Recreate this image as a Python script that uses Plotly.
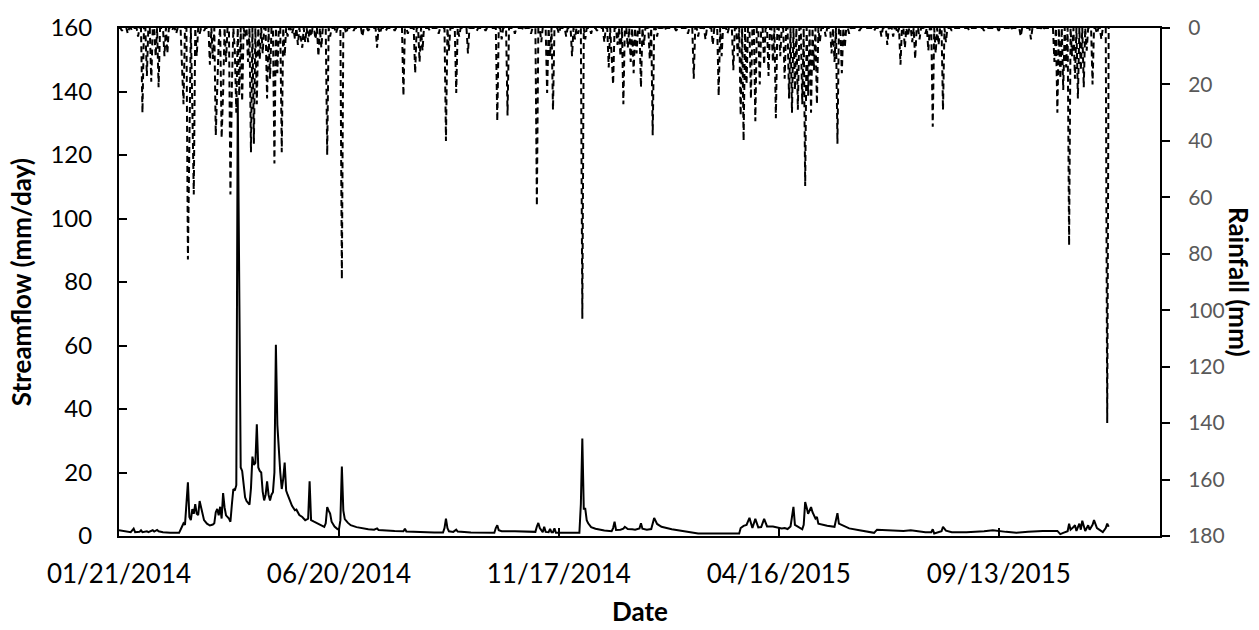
import pandas as pd
import numpy as np
import plotly.graph_objects as go

START = "2014-01-21"
N_DAYS = 676

# Streamflow (mm/day): key days (offset from 01/21/2014) and values
flow_day = [0, 3, 8, 10, 11, 14, 15, 16, 19, 20, 23, 24, 26, 27, 30, 35, 41, 43, 44, 45, 46, 47, 48, 49, 50, 51, 52, 53, 54, 55, 56, 57, 58, 60, 62, 64, 65, 66, 67, 68, 69, 70, 71, 72, 73, 75, 76, 77, 78, 79, 80, 81, 82, 83, 84, 85, 86, 87, 89, 90, 91, 92, 93, 94, 95, 96, 97, 98, 99, 100, 101, 102, 103, 104, 105, 106, 107, 108, 109, 110, 111, 112, 113, 114, 115, 117, 118, 120, 121, 123, 125, 127, 129, 130, 131, 133, 135, 138, 140, 141, 142, 143, 144, 145, 147, 149, 150, 151, 152, 153, 154, 156, 158, 162, 166, 170, 174, 176, 177, 182, 188, 194, 195, 196, 205, 215, 221, 222, 223, 224, 225, 228, 230, 231, 240, 250, 256, 257, 258, 259, 261, 270, 284, 285, 286, 287, 289, 290, 291, 293, 294, 295, 296, 297, 298, 314, 315, 316, 317, 318, 319, 320, 322, 325, 331, 336, 337, 338, 339, 342, 344, 345, 347, 350, 352, 355, 356, 357, 360, 363, 364, 365, 367, 370, 377, 386, 395, 423, 424, 426, 428, 430, 432, 434, 436, 438, 440, 442, 446, 452, 454, 456, 458, 459, 460, 461, 463, 466, 467, 468, 469, 470, 472, 473, 475, 476, 477, 483, 488, 489, 490, 491, 498, 505, 510, 515, 517, 525, 530, 535, 540, 545, 550, 554, 555, 556, 561, 562, 564, 568, 578, 590, 596, 605, 612, 620, 630, 640, 642, 644, 647, 648, 649, 651, 652, 653, 655, 656, 657, 659, 661, 662, 664, 665, 667, 671, 673, 674, 675]
flow_val = [1.8, 1.5, 1.2, 2.3, 1.2, 1.3, 1.8, 1.2, 1.5, 1.2, 1.8, 1.4, 1.9, 1.5, 1.2, 1.0, 1.0, 3.0, 4.0, 3.5, 10, 16.9, 6, 5.0, 8.5, 7, 10, 7, 6.6, 11, 9, 6.6, 5, 3.9, 3.3, 3.6, 4.0, 7.5, 8.5, 6.5, 9.2, 5.5, 13.5, 9, 6.5, 5.5, 4.5, 10, 14.8, 14.3, 16, 138, 60, 21.6, 20.5, 16, 12.2, 11, 9.9, 15, 25, 22.4, 23, 35.2, 21.6, 20.5, 20, 14, 11.2, 13, 17.2, 13, 11.2, 13, 13.8, 20, 60.2, 35, 26.8, 20, 14.8, 18, 23.1, 14.3, 13, 10.7, 9.5, 8.1, 8.3, 6.6, 6, 5.0, 5.5, 17.2, 5, 4.5, 4.0, 3.4, 2.9, 4, 9.1, 8, 7.1, 4.5, 3, 2.2, 2.0, 5, 21.9, 8, 5.3, 4.2, 3.4, 2.8, 2.4, 2.1, 2.0, 2.4, 1.9, 1.7, 1.6, 1.5, 2.3, 1.4, 1.2, 1.1, 1.1, 2.5, 5.5, 2.5, 1.5, 1.3, 2.0, 1.4, 1.1, 1.0, 1.0, 2.5, 3.4, 1.8, 1.5, 1.5, 1.3, 3.0, 4.1, 2.5, 1.2, 2.9, 1.3, 1.2, 2.2, 1.2, 1.2, 2.4, 1.0, 1.0, 10, 30.7, 8.6, 8.6, 5, 4.0, 2.8, 2.3, 1.7, 1.5, 2.5, 4.5, 1.9, 2.0, 2.3, 2.9, 2.2, 2.1, 2.0, 2.4, 4.0, 2.3, 2.0, 2.2, 4.5, 5.7, 3.8, 2.9, 2.1, 1.4, 0.8, 0.8, 2.5, 3.2, 3.5, 5.7, 2.5, 5.4, 2.7, 2.8, 5.4, 3.0, 3.0, 2.4, 2.5, 2.2, 3.0, 6, 9.2, 3.5, 2.9, 2.1, 3.5, 10.7, 9, 7.0, 9.1, 7.5, 5.5, 6.0, 3.9, 3.2, 2.9, 5, 7.2, 3.9, 2.4, 1.8, 1.5, 1.0, 2.0, 1.8, 1.8, 1.6, 1.8, 1.4, 1.2, 1.2, 2.1, 0.8, 1.5, 2.9, 1.7, 1.2, 1.2, 1.5, 1.8, 1.3, 1.0, 1.3, 1.6, 1.6, 0.6, 1.0, 1.5, 3.9, 2.0, 2.8, 3.4, 1.6, 3.9, 2.0, 4.8, 1.6, 3.4, 2.0, 3.5, 5.0, 2.5, 1.2, 2.5, 3.9, 2.9]

# Rainfall (mm): rainy days (offset from 01/21/2014) and amounts; all other days are 0
rain_day = [2, 6, 9, 13, 16, 19, 22, 25, 27, 31, 33, 36, 39, 43, 44, 47, 48, 50, 51, 53, 55, 58, 62, 64, 66, 67, 68, 70, 71, 73, 76, 77, 79, 80, 82, 84, 86, 88, 90, 92, 94, 96, 98, 101, 103, 106, 108, 111, 113, 115, 118, 120, 122, 124, 125, 127, 129, 131, 134, 136, 138, 142, 144, 148, 152, 155, 160, 166, 170, 176, 178, 182, 188, 194, 197, 202, 205, 207, 212, 218, 223, 225, 230, 232, 238, 244, 250, 258, 261, 265, 270, 276, 281, 285, 288, 292, 294, 296, 300, 305, 309, 311, 313, 316, 318, 322, 326, 331, 334, 336, 337, 340, 342, 344, 347, 349, 351, 353, 356, 358, 362, 364, 367, 372, 380, 388, 392, 395, 400, 405, 409, 411, 415, 419, 422, 424, 426, 428, 431, 434, 437, 440, 443, 446, 448, 451, 454, 457, 459, 461, 463, 466, 468, 470, 472, 474, 476, 478, 482, 486, 488, 490, 493, 495, 498, 505, 515, 520, 524, 528, 531, 533, 536, 538, 541, 543, 546, 550, 552, 555, 557, 559, 562, 564, 568, 580, 590, 600, 608, 615, 622, 630, 638, 640, 642, 644, 646, 648, 650, 652, 654, 656, 658, 660, 664, 667, 670, 674]
rain_mm = [1, 2, 1, 3, 30, 17, 19, 10, 21, 10, 9, 1, 2, 14, 27, 82, 29, 28, 59, 10, 2, 1, 13, 11, 38, 21, 5, 39, 23, 12, 59, 20, 8, 30, 24, 26, 3, 12, 44, 41, 27, 11, 9, 25, 18, 48, 16, 44, 10, 3, 2, 4, 6, 3, 7, 5, 5, 3, 4, 10, 7, 45, 3, 2, 89, 2, 1, 3, 1, 7, 2, 1, 1, 24, 2, 16, 12, 8, 1, 2, 40, 8, 23, 3, 9, 1, 1, 33, 4, 31, 2, 1, 2, 63, 5, 23, 10, 29, 2, 3, 10, 4, 2, 103, 4, 2, 1, 5, 14, 8, 20, 6, 10, 27, 7, 12, 16, 9, 21, 6, 11, 38, 3, 1, 1, 2, 18, 3, 4, 6, 24, 10, 2, 15, 10, 31, 40, 20, 25, 33, 20, 13, 17, 12, 32, 10, 18, 25, 30, 22, 29, 27, 56, 24, 30, 15, 27, 5, 3, 9, 12, 41, 16, 7, 2, 1, 1, 3, 6, 3, 2, 13, 7, 3, 5, 11, 4, 2, 8, 35, 9, 6, 29, 5, 1, 1, 1, 1, 1, 3, 4, 1, 12, 30, 18, 22, 14, 77, 10, 18, 25, 15, 21, 8, 20, 2, 4, 140]

start = pd.Timestamp(START)
flow_dates = [start + pd.Timedelta(days=d) for d in flow_day]
rain_daily = np.zeros(N_DAYS)
for d, v in zip(rain_day, rain_mm):
    rain_daily[d] = v
rain_dates = pd.date_range(START, periods=N_DAYS, freq="D")

FONT = "Lato"

fig = go.Figure()
fig.add_trace(go.Scatter(x=flow_dates, y=flow_val, mode="lines",
                         line=dict(color="black", width=2), name="Streamflow",
                         yaxis="y"))
fig.add_trace(go.Scatter(x=rain_dates, y=rain_daily, mode="lines",
                         line=dict(color="black", width=2, dash="6px,4px"),
                         name="Rainfall", yaxis="y2"))

fig.update_layout(
    width=1259, height=630,
    margin=dict(l=119, r=99, t=22, b=94),
    paper_bgcolor="white", plot_bgcolor="white",
    showlegend=False,
    font=dict(family=FONT, color="black"),
    xaxis=dict(
        type="date",
        range=["2014-01-21", "2016-01-01"],
        tickmode="linear", tick0="2014-01-21", dtick=150 * 86400000,
        tickformat="%m/%d/%Y",
        ticks="inside", ticklen=8, tickwidth=1.5, tickcolor="black",
        showline=True, linecolor="black", linewidth=2, mirror=True,
        showgrid=False, zeroline=False,
        tickfont=dict(family=FONT, size=26, color="black"),
        ticklabelstandoff=14,
    ),
    yaxis=dict(
        range=[0, 160], dtick=20, tick0=0,
        ticks="inside", ticklen=8, tickwidth=1.5, tickcolor="black",
        showline=True, linecolor="black", linewidth=2,
        showgrid=False, zeroline=False,
        tickfont=dict(family=FONT, size=24, color="black"),
        ticklabelstandoff=20,
    ),
    yaxis2=dict(
        overlaying="y", side="right",
        range=[180, 0], dtick=20, tick0=0,
        ticks="outside", ticklen=8, tickwidth=1.5, tickcolor="black",
        showline=True, linecolor="black", linewidth=2,
        showgrid=False, zeroline=False,
        tickfont=dict(family=FONT, size=21, color="#595959"),
        ticklabelstandoff=14,
    ),
    annotations=[
        dict(text="<b>Streamflow (mm/day)</b>", xref="paper", yref="paper",
             x=-0.094, y=0.5, xanchor="center", yanchor="middle",
             textangle=-90, showarrow=False,
             font=dict(family=FONT, size=26, color="black")),
        dict(text="<b>Rainfall (mm)</b>", xref="paper", yref="paper",
             x=1.076, y=0.5, xanchor="center", yanchor="middle",
             textangle=90, showarrow=False,
             font=dict(family=FONT, size=26, color="black")),
        dict(text="<b>Date</b>", xref="paper", yref="paper",
             x=0.5, y=-0.148, xanchor="center", yanchor="middle",
             showarrow=False,
             font=dict(family=FONT, size=26, color="black")),
    ],
)

fig.write_html("out.html")
